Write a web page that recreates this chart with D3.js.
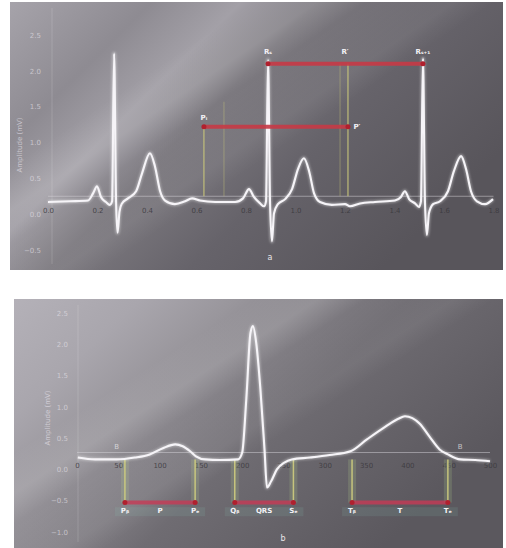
<!DOCTYPE html>
<html>
<head>
<meta charset="utf-8">
<script src="https://cdn.jsdelivr.net/npm/d3@7"></script>
<style>
    body { margin: 0; background: #fff; }
    text { font-family: 'DejaVu Sans', sans-serif; }
</style>
</head>
<body>
<script>
const WIDTH = 506;
const HEIGHT = 548;

// panel a: three beats, time in s, amplitude in mV
const topTime = [0, 0.089, 0.162, 0.182, 0.198, 0.214, 0.234, 0.25, 0.259, 0.267, 0.275, 0.281, 0.289, 0.299, 0.323, 0.356, 0.38, 0.412, 0.432, 0.453, 0.473, 0.513, 0.554, 0.582, 0.614, 0.675, 0.756, 0.788, 0.812, 0.832, 0.857, 0.873, 0.881, 0.889, 0.897, 0.905, 0.913, 0.929, 0.958, 0.986, 1.01, 1.034, 1.055, 1.075, 1.099, 1.147, 1.2, 1.22, 1.261, 1.321, 1.402, 1.426, 1.442, 1.459, 1.483, 1.499, 1.507, 1.515, 1.523, 1.531, 1.539, 1.556, 1.584, 1.616, 1.64, 1.669, 1.689, 1.709, 1.733, 1.766, 1.798];
const topAmp = [0.17, 0.18, 0.19, 0.29, 0.39, 0.24, 0.17, 0.13, 0.18, 2.24, 0.18, -0.26, 0.04, 0.15, 0.22, 0.32, 0.57, 0.85, 0.67, 0.32, 0.19, 0.14, 0.18, 0.22, 0.19, 0.17, 0.17, 0.22, 0.35, 0.24, 0.15, 0.11, 0.18, 2.15, 0.18, -0.38, 0.01, 0.14, 0.21, 0.35, 0.63, 0.78, 0.6, 0.29, 0.17, 0.13, 0.14, 0.11, 0.15, 0.17, 0.19, 0.24, 0.32, 0.21, 0.15, 0.1, 0.18, 2.17, 0.18, -0.29, 0.01, 0.14, 0.18, 0.32, 0.6, 0.81, 0.63, 0.32, 0.18, 0.14, 0.21];
const topXTicks = [0, 0.2, 0.4, 0.6, 0.8, 1.0, 1.2, 1.4, 1.6, 1.8];
const topYTicks = [-0.5, 0, 0.5, 1.0, 1.5, 2.0, 2.5];
const topBaseline = 0.25;
// measured intervals: [start, end, level, startLabel, endLabel]
const topIntervals = [
    [0.63, 1.212, 1.22, 'P\u1D62', 'P\u2032'],
    [0.889, 1.515, 2.1, 'R\u209B', 'R\u209B\u208A\u2081']
];
const topMidLabels = [[1.2, 2.1, 'R\u2032']];
const topGuides = [[0.63, 1.22, 0.9], [0.711, 1.57, 0.35], [1.18, 2.1, 0.35], [1.212, 2.1, 0.9]];

// panel b: one beat, time in ms
const botTime = [1, 22, 48, 70, 88, 104, 119, 128, 137, 144, 155, 173, 195, 200, 205, 210, 213, 217, 222, 227, 230, 235, 242, 251, 260, 282, 306, 331, 351, 373, 389, 397, 406, 415, 427, 439, 449, 464, 482, 500];
const botAmp = [0.19, 0.16, 0.16, 0.19, 0.24, 0.34, 0.40, 0.37, 0.29, 0.21, 0.16, 0.15, 0.16, 0.27, 1.13, 2.18, 2.29, 2.02, 1.29, 0.32, -0.29, -0.19, 0.0, 0.11, 0.16, 0.19, 0.23, 0.29, 0.48, 0.68, 0.81, 0.85, 0.82, 0.73, 0.52, 0.32, 0.24, 0.16, 0.15, 0.13];
const botXTicks = [0, 50, 100, 150, 200, 250, 300, 350, 400, 450, 500];
const botYTicks = [-1.0, -0.5, 0, 0.5, 1.0, 1.5, 2.0, 2.5];
const botBaseline = 0.27;
const botIntervals = [
    [58, 143, 'P\u1D66', 'P', 'P\u2091'],
    [191, 262, 'Q\u1D66', 'QRS', 'S\u2091'],
    [333, 449, 'T\u1D66', 'T', 'T\u2091']
];
const botBarLevel = -0.53;
const botLabelLevel = -0.7;
const botMarks = [[48, 'B'], [464, 'B']];

const svg = d3.select('body')
    .append('svg')
    .attr('width', WIDTH)
    .attr('height', HEIGHT);

const defs = svg.append('defs');

function makeGradient(id, stops, x2, y2) {
    const g = defs.append('linearGradient')
        .attr('id', id)
        .attr('x1', 0).attr('y1', 0)
        .attr('x2', x2).attr('y2', y2);
    stops.forEach(s => g.append('stop')
        .attr('offset', s[0])
        .attr('stop-color', s[1])
        .attr('stop-opacity', s[2] === undefined ? 1 : s[2]));
}
makeGradient('bgTop', [[0, '#a6a3aa'], [0.22, '#8e8b92'], [0.36, '#a3a0a7'], [0.48, '#7d7a80'], [0.7, '#66636a'], [1, '#58555b']], 1, 0.55);
makeGradient('bgBot', [[0, '#b4b1b8'], [0.2, '#a9a6ad'], [0.35, '#99969c'], [0.45, '#8a878d'], [0.62, '#6f6c72'], [1, '#5b585e']], 1, 0.55);
// soft light streaks
makeGradient('streak', [[0, '#ffffff', 0], [0.3, '#ffffff', 0], [0.38, '#ffffff', 0.12], [0.44, '#ffffff', 0], [0.55, '#ffffff', 0.06], [0.6, '#ffffff', 0], [1, '#ffffff', 0]], 1, 0.8);

const glow = defs.append('filter').attr('id', 'glow');
glow.append('feGaussianBlur').attr('stdDeviation', 1.2);

function panel(cfg) {
    const g = svg.append('g');

    g.append('rect')
        .attr('x', cfg.box[0])
        .attr('y', cfg.box[1])
        .attr('width', cfg.box[2])
        .attr('height', cfg.box[3])
        .attr('fill', `url(#${cfg.bg})`);
    g.append('rect')
        .attr('x', cfg.box[0])
        .attr('y', cfg.box[1])
        .attr('width', cfg.box[2])
        .attr('height', cfg.box[3])
        .attr('fill', 'url(#streak)');

    const x = d3.scaleLinear().domain(cfg.xDomain).range(cfg.xRange);
    const y = d3.scaleLinear().domain(cfg.yDomain).range(cfg.yRange);

    // y axis
    const yAxis = g.append('g')
        .attr('transform', `translate(${cfg.yAxisX}, 0)`)
        .call(d3.axisLeft(y).tickValues(cfg.yTicks).tickSize(0).tickPadding(cfg.yPad)
            .tickFormat(d3.format('.1f')));
    yAxis.select('.domain')
        .attr('stroke', '#ffffff')
        .attr('stroke-opacity', 0.15)
        .attr('d', `M0,${cfg.box[1] + 6}V${cfg.box[1] + cfg.box[3] - 6}`);
    yAxis.selectAll('text')
        .attr('fill', '#e4e1e8')
        .attr('fill-opacity', 0.65)
        .attr('font-size', 7);

    g.append('text')
        .attr('transform', `translate(${cfg.titleX}, ${cfg.titleY}) rotate(-90)`)
        .attr('text-anchor', 'middle')
        .attr('fill', '#eeeaf2')
        .attr('fill-opacity', 0.6)
        .attr('font-size', 7)
        .text('Amplitude (mV)');

    // x axis
    const xAxis = g.append('g')
        .attr('transform', `translate(0, ${cfg.xAxisY})`)
        .call(d3.axisBottom(x).tickValues(cfg.xTicks).tickSize(0).tickPadding(0)
            .tickFormat(cfg.xFormat));
    xAxis.select('.domain').remove();
    xAxis.selectAll('text')
        .attr('fill', '#3a383d')
        .attr('fill-opacity', 0.85)
        .attr('font-size', 7);

    // baseline reference
    g.append('line')
        .attr('x1', x(cfg.xDomain[0]))
        .attr('x2', x(cfg.xDomain[1]))
        .attr('y1', y(cfg.baseline))
        .attr('y2', y(cfg.baseline))
        .attr('stroke', '#d8d6dc')
        .attr('stroke-opacity', 0.5)
        .attr('stroke-width', 1);

    return { g, x, y };
}

const line = (x, y) => d3.line()
    .x(d => x(d[0]))
    .y(d => y(d[1]))
    .curve(d3.curveMonotoneX);

function drawTrace(g, x, y, ts, vs) {
    const pts = ts.map((t, i) => [t, vs[i]]);
    g.append('path')
        .attr('d', line(x, y)(pts))
        .attr('fill', 'none')
        .attr('stroke', '#ffffff')
        .attr('stroke-width', 4)
        .attr('stroke-opacity', 0.35)
        .attr('filter', 'url(#glow)');
    g.append('path')
        .attr('d', line(x, y)(pts))
        .attr('fill', 'none')
        .attr('stroke', '#f6f4f8')
        .attr('stroke-width', 2.1)
        .attr('stroke-linejoin', 'round');
}

// ---------- panel a ----------
const a = panel({
    box: [10, 2, 493, 268],
    bg: 'bgTop',
    xDomain: [0, 1.8], xRange: [48, 493.5],
    yDomain: [-0.5, 2.5], yRange: [250, 35],
    yTicks: topYTicks, yAxisX: 52, yPad: 11,
    xTicks: topXTicks, xAxisY: 208, xFormat: d3.format('.1f'),
    titleX: 22, titleY: 145,
    baseline: topBaseline
});

topGuides.forEach(d => {
    a.g.append('line')
        .attr('x1', a.x(d[0])).attr('x2', a.x(d[0]))
        .attr('y1', a.y(topBaseline)).attr('y2', a.y(d[1]))
        .attr('stroke', '#c9c77a')
        .attr('stroke-opacity', d[2])
        .attr('stroke-width', 1.2);
});

drawTrace(a.g, a.x, a.y, topTime, topAmp);

topIntervals.forEach(d => {
    a.g.append('line')
        .attr('x1', a.x(d[0])).attr('x2', a.x(d[1]))
        .attr('y1', a.y(d[2])).attr('y2', a.y(d[2]))
        .attr('stroke', '#c73a46')
        .attr('stroke-width', 4)
        .attr('stroke-opacity', 0.9);
    [d[0], d[1]].forEach(t => {
        a.g.append('circle')
            .attr('cx', a.x(t)).attr('cy', a.y(d[2]))
            .attr('r', 2.5)
            .attr('fill', '#b0202e');
    });
});

// interval labels
a.g.append('text')
    .attr('x', a.x(topIntervals[0][0])).attr('y', a.y(topIntervals[0][2]) - 7)
    .attr('text-anchor', 'middle')
    .attr('fill', '#f4f2f6').attr('font-size', 7).attr('font-weight', 'bold')
    .text(topIntervals[0][3]);
a.g.append('text')
    .attr('x', a.x(topIntervals[0][1]) + 9).attr('y', a.y(topIntervals[0][2]) + 2.5)
    .attr('text-anchor', 'middle')
    .attr('fill', '#f4f2f6').attr('font-size', 7).attr('font-weight', 'bold')
    .text(topIntervals[0][4]);
[[topIntervals[1][0], topIntervals[1][3]], [topIntervals[1][1], topIntervals[1][4]]].concat(topMidLabels.map(d => [d[0], d[2]]))
    .forEach(d => {
        a.g.append('text')
            .attr('x', a.x(d[0])).attr('y', a.y(topIntervals[1][2]) - 10)
            .attr('text-anchor', 'middle')
            .attr('fill', '#f4f2f6').attr('font-size', 7).attr('font-weight', 'bold')
            .text(d[1]);
    });

a.g.append('text')
    .attr('x', 270).attr('y', 260)
    .attr('text-anchor', 'middle')
    .attr('fill', '#e8e6ea').attr('font-size', 8)
    .text('a');

// ---------- panel b ----------
const b = panel({
    box: [14, 299, 489, 249],
    bg: 'bgBot',
    xDomain: [0, 500], xRange: [77, 490],
    yDomain: [-1.0, 2.5], yRange: [532, 313],
    yTicks: botYTicks, yAxisX: 78, yPad: 10,
    xTicks: botXTicks, xAxisY: 463, xFormat: d3.format('d'),
    titleX: 50, titleY: 418,
    baseline: botBaseline
});

botIntervals.forEach(d => {
    [d[0], d[1]].forEach(t => {
        b.g.append('rect')
            .attr('x', b.x(t) - 4).attr('y', b.y(0.16))
            .attr('width', 8).attr('height', b.y(botBarLevel) - b.y(0.16))
            .attr('fill', '#b8d890').attr('fill-opacity', 0.18);
        b.g.append('line')
            .attr('x1', b.x(t)).attr('x2', b.x(t))
            .attr('y1', b.y(0.16)).attr('y2', b.y(botBarLevel))
            .attr('stroke', '#cfcd7e')
            .attr('stroke-width', 1.5)
            .attr('stroke-opacity', 0.9);
    });
    b.g.append('rect')
        .attr('x', b.x(d[0]) - 10).attr('y', b.y(botLabelLevel) - 6)
        .attr('width', b.x(d[1]) - b.x(d[0]) + 20).attr('height', 9)
        .attr('fill', '#8fd0c0').attr('fill-opacity', 0.12);
    b.g.append('line')
        .attr('x1', b.x(d[0])).attr('x2', b.x(d[1]))
        .attr('y1', b.y(botBarLevel)).attr('y2', b.y(botBarLevel))
        .attr('stroke', '#c73a55')
        .attr('stroke-width', 4)
        .attr('stroke-opacity', 0.8);
    [d[0], d[1]].forEach(t => {
        b.g.append('circle')
            .attr('cx', b.x(t)).attr('cy', b.y(botBarLevel))
            .attr('r', 2.5)
            .attr('fill', '#b0202e');
    });
    [[d[0], d[2]], [(d[0] + d[1]) / 2, d[3]], [d[1], d[4]]].forEach(l => {
        b.g.append('text')
            .attr('x', b.x(l[0])).attr('y', b.y(botLabelLevel))
            .attr('text-anchor', 'middle')
            .attr('fill', '#f4f2f6').attr('font-size', 7).attr('font-weight', 'bold')
            .text(l[1]);
    });
});

botMarks.forEach(d => {
    b.g.append('text')
        .attr('x', b.x(d[0])).attr('y', b.y(botBaseline) - 4)
        .attr('text-anchor', 'middle')
        .attr('fill', '#f0eef2').attr('fill-opacity', 0.7).attr('font-size', 7)
        .text(d[1]);
});

drawTrace(b.g, b.x, b.y, botTime, botAmp);

b.g.append('text')
    .attr('x', 283).attr('y', 541)
    .attr('text-anchor', 'middle')
    .attr('fill', '#e8e6ea').attr('font-size', 8)
    .text('b');
</script>
</body>
</html>
